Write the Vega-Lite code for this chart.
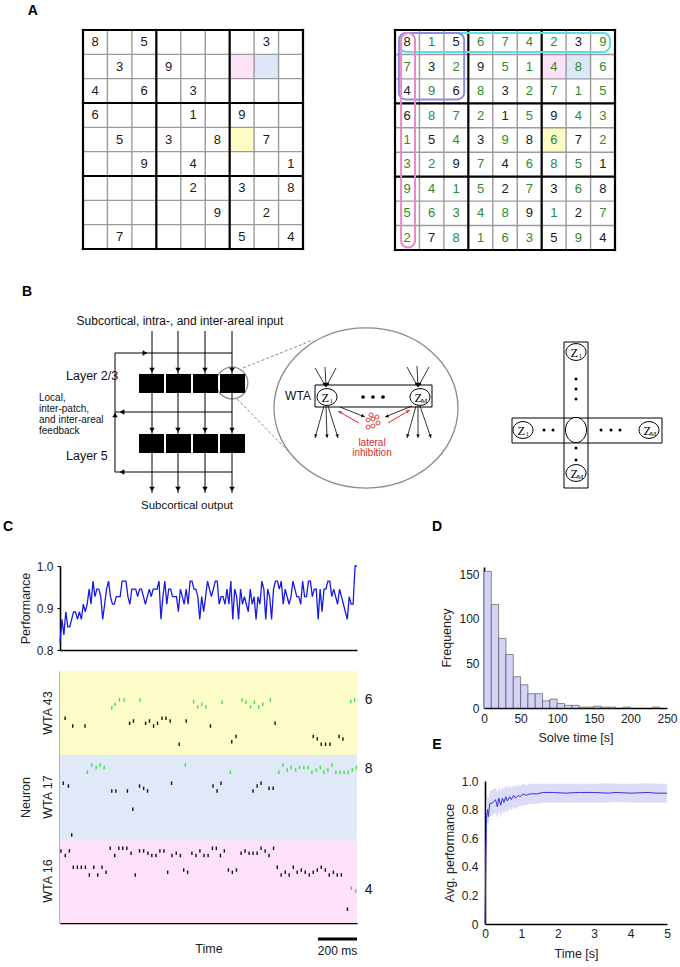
{
"$schema":"https://vega.github.io/schema/vega-lite/v6.json",
"width":680,"height":967,"autosize":"none","padding":0,"background":"white",
"config":{"font":"Liberation Sans","view":{"stroke":null},
 "axis":{"labelFont":"Liberation Sans","titleFont":"Liberation Sans","labelFontSize":12,"titleFontSize":12.5,"titleFontWeight":"normal","labelColor":"#222222","titleColor":"#222222","domainColor":"#000000","domainWidth":1.6,"tickColor":"#000000","grid":false,"ticks":false,"zindex":1,"labelFlush":false}},
"resolve":{"scale":{"x":"independent","y":"independent","color":"independent"},"axis":{"x":"independent","y":"independent"}},
"datasets":{
"sol":[{"r":1,"c":1,"v":8,"g":1},{"r":1,"c":2,"v":1,"g":0},{"r":1,"c":3,"v":5,"g":1},{"r":1,"c":4,"v":6,"g":0},{"r":1,"c":5,"v":7,"g":0},{"r":1,"c":6,"v":4,"g":0},{"r":1,"c":7,"v":2,"g":0},{"r":1,"c":8,"v":3,"g":1},{"r":1,"c":9,"v":9,"g":0},
{"r":2,"c":1,"v":7,"g":0},{"r":2,"c":2,"v":3,"g":1},{"r":2,"c":3,"v":2,"g":0},{"r":2,"c":4,"v":9,"g":1},{"r":2,"c":5,"v":5,"g":0},{"r":2,"c":6,"v":1,"g":0},{"r":2,"c":7,"v":4,"g":0},{"r":2,"c":8,"v":8,"g":0},{"r":2,"c":9,"v":6,"g":0},
{"r":3,"c":1,"v":4,"g":1},{"r":3,"c":2,"v":9,"g":0},{"r":3,"c":3,"v":6,"g":1},{"r":3,"c":4,"v":8,"g":0},{"r":3,"c":5,"v":3,"g":1},{"r":3,"c":6,"v":2,"g":0},{"r":3,"c":7,"v":7,"g":0},{"r":3,"c":8,"v":1,"g":0},{"r":3,"c":9,"v":5,"g":0},
{"r":4,"c":1,"v":6,"g":1},{"r":4,"c":2,"v":8,"g":0},{"r":4,"c":3,"v":7,"g":0},{"r":4,"c":4,"v":2,"g":0},{"r":4,"c":5,"v":1,"g":1},{"r":4,"c":6,"v":5,"g":0},{"r":4,"c":7,"v":9,"g":1},{"r":4,"c":8,"v":4,"g":0},{"r":4,"c":9,"v":3,"g":0},
{"r":5,"c":1,"v":1,"g":0},{"r":5,"c":2,"v":5,"g":1},{"r":5,"c":3,"v":4,"g":0},{"r":5,"c":4,"v":3,"g":1},{"r":5,"c":5,"v":9,"g":0},{"r":5,"c":6,"v":8,"g":1},{"r":5,"c":7,"v":6,"g":0},{"r":5,"c":8,"v":7,"g":1},{"r":5,"c":9,"v":2,"g":0},
{"r":6,"c":1,"v":3,"g":0},{"r":6,"c":2,"v":2,"g":0},{"r":6,"c":3,"v":9,"g":1},{"r":6,"c":4,"v":7,"g":0},{"r":6,"c":5,"v":4,"g":1},{"r":6,"c":6,"v":6,"g":0},{"r":6,"c":7,"v":8,"g":0},{"r":6,"c":8,"v":5,"g":0},{"r":6,"c":9,"v":1,"g":1},
{"r":7,"c":1,"v":9,"g":0},{"r":7,"c":2,"v":4,"g":0},{"r":7,"c":3,"v":1,"g":0},{"r":7,"c":4,"v":5,"g":0},{"r":7,"c":5,"v":2,"g":1},{"r":7,"c":6,"v":7,"g":0},{"r":7,"c":7,"v":3,"g":1},{"r":7,"c":8,"v":6,"g":0},{"r":7,"c":9,"v":8,"g":1},
{"r":8,"c":1,"v":5,"g":0},{"r":8,"c":2,"v":6,"g":0},{"r":8,"c":3,"v":3,"g":0},{"r":8,"c":4,"v":4,"g":0},{"r":8,"c":5,"v":8,"g":0},{"r":8,"c":6,"v":9,"g":1},{"r":8,"c":7,"v":1,"g":0},{"r":8,"c":8,"v":2,"g":1},{"r":8,"c":9,"v":7,"g":0},
{"r":9,"c":1,"v":2,"g":0},{"r":9,"c":2,"v":7,"g":1},{"r":9,"c":3,"v":8,"g":0},{"r":9,"c":4,"v":1,"g":0},{"r":9,"c":5,"v":6,"g":0},{"r":9,"c":6,"v":3,"g":0},{"r":9,"c":7,"v":5,"g":1},{"r":9,"c":8,"v":9,"g":0},{"r":9,"c":9,"v":4,"g":1}],
"hl":[{"r":2,"c":7,"w":"WTA 16"},{"r":2,"c":8,"w":"WTA 17"},{"r":5,"c":7,"w":"WTA 43"}],
"grid":[{"k":0,"b":1},{"k":1,"b":0},{"k":2,"b":0},{"k":3,"b":1},{"k":4,"b":0},{"k":5,"b":0},{"k":6,"b":1},{"k":7,"b":0},{"k":8,"b":0},{"k":9,"b":1}],
"rounds":[{"kind":"row","x1":0.2,"x2":8.8,"y1":0.12,"y2":0.9},{"kind":"box","x1":0.16,"x2":2.83,"y1":0.12,"y2":2.84},{"kind":"col","x1":0.25,"x2":0.82,"y1":0.12,"y2":8.9}],
"perf":[{"i":0,"p":0.818},{"i":1,"p":0.873},{"i":2,"p":0.836},{"i":3,"p":0.891},{"i":4,"p":0.855},{"i":5,"p":0.855},{"i":6,"p":0.873},{"i":7,"p":0.891},{"i":8,"p":0.891},{"i":9,"p":0.873},
{"i":10,"p":0.891},{"i":11,"p":0.873},{"i":12,"p":0.909},{"i":13,"p":0.891},{"i":14,"p":0.909},{"i":15,"p":0.945},{"i":16,"p":0.909},{"i":17,"p":0.964},{"i":18,"p":0.927},{"i":19,"p":0.945},
{"i":20,"p":0.945},{"i":21,"p":0.927},{"i":22,"p":0.873},{"i":23,"p":0.909},{"i":24,"p":0.945},{"i":25,"p":0.964},{"i":26,"p":0.927},{"i":27,"p":0.909},{"i":28,"p":0.909},{"i":29,"p":0.927},
{"i":30,"p":0.927},{"i":31,"p":0.927},{"i":32,"p":0.964},{"i":33,"p":0.964},{"i":34,"p":0.964},{"i":35,"p":0.927},{"i":36,"p":0.909},{"i":37,"p":0.945},{"i":38,"p":0.945},{"i":39,"p":0.945},
{"i":40,"p":0.927},{"i":41,"p":0.945},{"i":42,"p":0.945},{"i":43,"p":0.927},{"i":44,"p":0.909},{"i":45,"p":0.927},{"i":46,"p":0.945},{"i":47,"p":0.927},{"i":48,"p":0.945},{"i":49,"p":0.945},
{"i":50,"p":0.945},{"i":51,"p":0.964},{"i":52,"p":0.873},{"i":53,"p":0.927},{"i":54,"p":0.964},{"i":55,"p":0.909},{"i":56,"p":0.945},{"i":57,"p":0.945},{"i":58,"p":0.927},{"i":59,"p":0.927},
{"i":60,"p":0.927},{"i":61,"p":0.891},{"i":62,"p":0.945},{"i":63,"p":0.927},{"i":64,"p":0.909},{"i":65,"p":0.945},{"i":66,"p":0.909},{"i":67,"p":0.964},{"i":68,"p":0.964},{"i":69,"p":0.945},
{"i":70,"p":0.945},{"i":71,"p":0.927},{"i":72,"p":0.873},{"i":73,"p":0.927},{"i":74,"p":0.891},{"i":75,"p":0.927},{"i":76,"p":0.964},{"i":77,"p":0.945},{"i":78,"p":0.927},{"i":79,"p":0.945},
{"i":80,"p":0.964},{"i":81,"p":0.964},{"i":82,"p":0.909},{"i":83,"p":0.927},{"i":84,"p":0.927},{"i":85,"p":0.909},{"i":86,"p":0.945},{"i":87,"p":0.909},{"i":88,"p":0.964},{"i":89,"p":0.873},
{"i":90,"p":0.945},{"i":91,"p":0.927},{"i":92,"p":0.873},{"i":93,"p":0.945},{"i":94,"p":0.909},{"i":95,"p":0.927},{"i":96,"p":0.909},{"i":97,"p":0.891},{"i":98,"p":0.945},{"i":99,"p":0.909},
{"i":100,"p":0.927},{"i":101,"p":0.873},{"i":102,"p":0.927},{"i":103,"p":0.909},{"i":104,"p":0.964},{"i":105,"p":0.945},{"i":106,"p":0.873},{"i":107,"p":0.945},{"i":108,"p":0.927},{"i":109,"p":0.873},
{"i":110,"p":0.945},{"i":111,"p":0.964},{"i":112,"p":0.964},{"i":113,"p":0.945},{"i":114,"p":0.964},{"i":115,"p":0.909},{"i":116,"p":0.945},{"i":117,"p":0.927},{"i":118,"p":0.909},{"i":119,"p":0.927},
{"i":120,"p":0.964},{"i":121,"p":0.945},{"i":122,"p":0.927},{"i":123,"p":0.927},{"i":124,"p":0.909},{"i":125,"p":0.964},{"i":126,"p":0.927},{"i":127,"p":0.927},{"i":128,"p":0.964},{"i":129,"p":0.964},
{"i":130,"p":0.927},{"i":131,"p":0.945},{"i":132,"p":0.945},{"i":133,"p":0.873},{"i":134,"p":0.945},{"i":135,"p":0.891},{"i":136,"p":0.945},{"i":137,"p":0.945},{"i":138,"p":0.964},{"i":139,"p":0.964},
{"i":140,"p":0.927},{"i":141,"p":0.945},{"i":142,"p":0.927},{"i":143,"p":0.909},{"i":144,"p":0.945},{"i":145,"p":0.927},{"i":146,"p":0.909},{"i":147,"p":0.891},{"i":148,"p":0.873},{"i":149,"p":0.927},
{"i":150,"p":0.909},{"i":151,"p":0.909},{"i":152,"p":1.0},{"i":153,"p":1.0}],
"wta":[{"w":"WTA 43"},{"w":"WTA 17"},{"w":"WTA 16"}],
"spikes":[{"t":265,"n":92.3,"c":"g"},{"t":282,"n":93.7,"c":"g"},{"t":304,"n":95.6,"c":"g"},{"t":328,"n":95.6,"c":"g"},{"t":410,"n":95.6,"c":"g"},{"t":684,"n":94.9,"c":"g"},{"t":705,"n":92.6,"c":"g"},{"t":725,"n":93.7,"c":"g"},{"t":747,"n":92.6,"c":"g"},{"t":829,"n":94.6,"c":"g"},{"t":932,"n":95.6,"c":"g"},{"t":952,"n":94.6,"c":"g"},{"t":975,"n":92.6,"c":"g"},{"t":995,"n":94.6,"c":"g"},{"t":1017,"n":92.6,"c":"g"},{"t":1038,"n":93.7,"c":"g"},{"t":1077,"n":95.6,"c":"g"},{"t":1488,"n":94.9,"c":"g"},{"t":1508,"n":95.6,"c":"g"},
{"t":26,"n":87.7,"c":"k"},{"t":65,"n":84.4,"c":"k"},{"t":128,"n":84.4,"c":"k"},{"t":356,"n":85.6,"c":"k"},{"t":376,"n":86.6,"c":"k"},{"t":438,"n":85.6,"c":"k"},{"t":458,"n":86.6,"c":"k"},{"t":479,"n":84.4,"c":"k"},{"t":499,"n":85.6,"c":"k"},{"t":522,"n":87.7,"c":"k"},{"t":542,"n":87.7,"c":"k"},{"t":564,"n":86.6,"c":"k"},{"t":610,"n":76.6,"c":"k"},{"t":646,"n":86.6,"c":"k"},{"t":770,"n":84.4,"c":"k"},{"t":879,"n":77.7,"c":"k"},{"t":901,"n":79.9,"c":"k"},{"t":1101,"n":85.6,"c":"k"},{"t":1296,"n":79.9,"c":"k"},{"t":1317,"n":78.9,"c":"k"},{"t":1337,"n":76.6,"c":"k"},{"t":1359,"n":76.6,"c":"k"},{"t":1382,"n":76.6,"c":"k"},{"t":1428,"n":79.9,"c":"k"},{"t":1448,"n":78.9,"c":"k"},
{"t":140,"n":64.6,"c":"g"},{"t":162,"n":67.7,"c":"g"},{"t":185,"n":66.6,"c":"g"},{"t":205,"n":67.7,"c":"g"},{"t":226,"n":66.6,"c":"g"},{"t":641,"n":67.7,"c":"g"},{"t":872,"n":64.6,"c":"g"},{"t":1120,"n":64.6,"c":"g"},{"t":1141,"n":67.7,"c":"g"},{"t":1163,"n":65.6,"c":"g"},{"t":1183,"n":66.6,"c":"g"},{"t":1206,"n":65.6,"c":"g"},{"t":1226,"n":66.6,"c":"g"},{"t":1248,"n":66.6,"c":"g"},{"t":1269,"n":66.6,"c":"g"},{"t":1289,"n":64.6,"c":"g"},{"t":1312,"n":65.6,"c":"g"},{"t":1332,"n":66.6,"c":"g"},{"t":1351,"n":64.6,"c":"g"},{"t":1371,"n":65.6,"c":"g"},{"t":1392,"n":67.7,"c":"g"},{"t":1412,"n":64.6,"c":"g"},{"t":1433,"n":64.6,"c":"g"},{"t":1454,"n":64.6,"c":"g"},{"t":1474,"n":64.6,"c":"g"},{"t":1496,"n":65.6,"c":"g"},{"t":1517,"n":66.6,"c":"g"},
{"t":17,"n":59.9,"c":"k"},{"t":43,"n":58.7,"c":"k"},{"t":265,"n":56.6,"c":"k"},{"t":286,"n":56.6,"c":"k"},{"t":345,"n":56.6,"c":"k"},{"t":407,"n":58.7,"c":"k"},{"t":428,"n":57.7,"c":"k"},{"t":448,"n":56.6,"c":"k"},{"t":571,"n":59.9,"c":"k"},{"t":373,"n":48.7,"c":"k"},{"t":783,"n":58.7,"c":"k"},{"t":804,"n":56.6,"c":"k"},{"t":824,"n":59.9,"c":"k"},{"t":988,"n":56.6,"c":"k"},{"t":1009,"n":58.7,"c":"k"},{"t":1029,"n":59.9,"c":"k"},{"t":1070,"n":57.7,"c":"k"},{"t":1091,"n":57.7,"c":"k"},{"t":60,"n":37.7,"c":"k"},
{"t":5,"n":30.9,"c":"k"},{"t":27,"n":28.9,"c":"k"},{"t":48,"n":30.9,"c":"k"},{"t":257,"n":32,"c":"k"},{"t":280,"n":28.9,"c":"k"},{"t":301,"n":32,"c":"k"},{"t":321,"n":32,"c":"k"},{"t":342,"n":32,"c":"k"},{"t":364,"n":29.9,"c":"k"},{"t":407,"n":30.9,"c":"k"},{"t":428,"n":30.9,"c":"k"},{"t":450,"n":29.9,"c":"k"},{"t":470,"n":28.9,"c":"k"},{"t":491,"n":28.9,"c":"k"},{"t":511,"n":30.9,"c":"k"},{"t":532,"n":30.9,"c":"k"},{"t":573,"n":28.9,"c":"k"},{"t":595,"n":29.9,"c":"k"},{"t":616,"n":28.9,"c":"k"},{"t":675,"n":29.9,"c":"k"},{"t":696,"n":28.9,"c":"k"},{"t":716,"n":30.9,"c":"k"},{"t":737,"n":28.9,"c":"k"},{"t":758,"n":28.9,"c":"k"},{"t":780,"n":32,"c":"k"},{"t":800,"n":32,"c":"k"},{"t":821,"n":28.9,"c":"k"},{"t":841,"n":30.9,"c":"k"},{"t":927,"n":29.9,"c":"k"},{"t":947,"n":30.9,"c":"k"},{"t":968,"n":29.9,"c":"k"},{"t":988,"n":29.9,"c":"k"},{"t":1009,"n":29.9,"c":"k"},{"t":1029,"n":32,"c":"k"},{"t":1050,"n":30.9,"c":"k"},{"t":1070,"n":28.9,"c":"k"},{"t":1093,"n":32,"c":"k"},
{"t":68,"n":23.9,"c":"k"},{"t":89,"n":23.9,"c":"k"},{"t":109,"n":23.9,"c":"k"},{"t":130,"n":23.9,"c":"k"},{"t":150,"n":20.6,"c":"k"},{"t":173,"n":23.9,"c":"k"},{"t":193,"n":20.6,"c":"k"},{"t":215,"n":23.9,"c":"k"},{"t":236,"n":21.7,"c":"k"},{"t":385,"n":20.6,"c":"k"},{"t":551,"n":21.7,"c":"k"},{"t":633,"n":22.7,"c":"k"},{"t":653,"n":21.7,"c":"k"},{"t":862,"n":22.7,"c":"k"},{"t":882,"n":21.7,"c":"k"},{"t":903,"n":22.7,"c":"k"},{"t":1112,"n":23.9,"c":"k"},{"t":1132,"n":20.6,"c":"k"},{"t":1153,"n":21.7,"c":"k"},{"t":1173,"n":20.6,"c":"k"},{"t":1194,"n":23.9,"c":"k"},{"t":1214,"n":21.7,"c":"k"},{"t":1235,"n":22.7,"c":"k"},{"t":1255,"n":21.7,"c":"k"},{"t":1276,"n":20.6,"c":"k"},{"t":1296,"n":21.7,"c":"k"},{"t":1317,"n":22.7,"c":"k"},{"t":1337,"n":23.9,"c":"k"},{"t":1358,"n":22.7,"c":"k"},{"t":1378,"n":20.6,"c":"k"},{"t":1399,"n":21.7,"c":"k"},{"t":1419,"n":20.6,"c":"k"},{"t":1440,"n":20.6,"c":"k"},
{"t":1491,"n":14.9,"c":"g"},{"t":1513,"n":13.7,"c":"g"},{"t":1471,"n":5.9,"c":"k"}],
"hist":[{"b0":0,"b1":10,"f":153},{"b0":10,"b1":20,"f":116},{"b0":20,"b1":30,"f":78},{"b0":30,"b1":40,"f":60},{"b0":40,"b1":50,"f":35},{"b0":50,"b1":60,"f":26},{"b0":60,"b1":70,"f":16},{"b0":70,"b1":80,"f":16},{"b0":80,"b1":90,"f":8},{"b0":90,"b1":100,"f":10},{"b0":100,"b1":110,"f":5},{"b0":110,"b1":120,"f":3},{"b0":120,"b1":130,"f":3},{"b0":130,"b1":140,"f":1},{"b0":140,"b1":150,"f":1},{"b0":150,"b1":160,"f":2},{"b0":160,"b1":170,"f":1},{"b0":170,"b1":180,"f":1},{"b0":190,"b1":200,"f":1},{"b0":230,"b1":240,"f":1}],
"avg":[{"t":0,"m":0,"lo":0,"hi":0},{"t":0.04,"m":0.74,"lo":0.66,"hi":0.85},{"t":0.07,"m":0.8,"lo":0.72,"hi":0.9},{"t":0.09,"m":0.75,"lo":0.68,"hi":0.87},{"t":0.13,"m":0.84,"lo":0.75,"hi":0.93},{"t":0.22,"m":0.85,"lo":0.76,"hi":0.94},{"t":0.29,"m":0.87,"lo":0.78,"hi":0.95},{"t":0.34,"m":0.82,"lo":0.74,"hi":0.92},{"t":0.38,"m":0.88,"lo":0.79,"hi":0.96},{"t":0.43,"m":0.83,"lo":0.75,"hi":0.93},{"t":0.48,"m":0.88,"lo":0.79,"hi":0.96},{"t":0.52,"m":0.85,"lo":0.77,"hi":0.94},{"t":0.57,"m":0.89,"lo":0.8,"hi":0.97},{"t":0.61,"m":0.86,"lo":0.78,"hi":0.95},{"t":0.68,"m":0.89,"lo":0.81,"hi":0.97},{"t":0.72,"m":0.87,"lo":0.79,"hi":0.95},{"t":0.79,"m":0.9,"lo":0.82,"hi":0.97},{"t":0.84,"m":0.88,"lo":0.8,"hi":0.96},{"t":0.91,"m":0.9,"lo":0.82,"hi":0.97},{"t":0.97,"m":0.89,"lo":0.82,"hi":0.97},{"t":1.04,"m":0.91,"lo":0.83,"hi":0.98},{"t":1.13,"m":0.9,"lo":0.83,"hi":0.97},{"t":1.23,"m":0.91,"lo":0.84,"hi":0.98},{"t":1.42,"m":0.91,"lo":0.84,"hi":0.98},{"t":1.6,"m":0.92,"lo":0.85,"hi":0.98},{"t":1.88,"m":0.92,"lo":0.85,"hi":0.98},{"t":2.2,"m":0.915,"lo":0.85,"hi":0.98},{"t":2.6,"m":0.92,"lo":0.85,"hi":0.98},{"t":3.0,"m":0.92,"lo":0.85,"hi":0.98},{"t":3.4,"m":0.915,"lo":0.85,"hi":0.985},{"t":3.6,"m":0.92,"lo":0.855,"hi":0.98},{"t":4.0,"m":0.915,"lo":0.85,"hi":0.98},{"t":4.5,"m":0.92,"lo":0.85,"hi":0.985},{"t":4.7,"m":0.915,"lo":0.85,"hi":0.98},{"t":5.0,"m":0.915,"lo":0.85,"hi":0.98}],
"bsq":[{"x1":27.8,"x2":32.8,"y1":74.8,"y2":78.6},{"x1":33.2,"x2":38.2,"y1":74.8,"y2":78.6},{"x1":38.6,"x2":43.6,"y1":74.8,"y2":78.6},{"x1":44,"x2":49,"y1":74.8,"y2":78.6},{"x1":27.8,"x2":32.8,"y1":86.8,"y2":90.6},{"x1":33.2,"x2":38.2,"y1":86.8,"y2":90.6},{"x1":38.6,"x2":43.6,"y1":86.8,"y2":90.6},{"x1":44,"x2":49,"y1":86.8,"y2":90.6}],
"bbox":[{"x1":63,"x2":86.4,"y1":77,"y2":81.4},{"x1":112.8,"x2":117.6,"y1":68.4,"y2":97.6},{"x1":102.4,"x2":132.4,"y1":83.6,"y2":88.6}],
"blines":[{"g":"m","x1":30.4,"y1":66.2,"x2":30.4,"y2":74.8},{"g":"m","x1":35.6,"y1":66.2,"x2":35.6,"y2":74.8},{"g":"m","x1":41,"y1":66.2,"x2":41,"y2":74.8},{"g":"m","x1":46.4,"y1":66.2,"x2":46.4,"y2":74.8},
{"g":"m","x1":30.4,"y1":78.6,"x2":30.4,"y2":86.8},{"g":"m","x1":35.6,"y1":78.6,"x2":35.6,"y2":86.8},{"g":"m","x1":41,"y1":78.6,"x2":41,"y2":86.8},{"g":"m","x1":46.4,"y1":78.6,"x2":46.4,"y2":86.8},
{"g":"m","x1":30.4,"y1":90.6,"x2":30.4,"y2":98.6},{"g":"m","x1":35.6,"y1":90.6,"x2":35.6,"y2":98.6},{"g":"m","x1":41,"y1":90.6,"x2":41,"y2":98.6},{"g":"m","x1":46.4,"y1":90.6,"x2":46.4,"y2":98.6},
{"g":"m","x1":23,"y1":70.6,"x2":23,"y2":94.4},{"g":"m","x1":23,"y1":70.6,"x2":46.4,"y2":70.6},{"g":"m","x1":23,"y1":82.4,"x2":46.4,"y2":82.4},{"g":"m","x1":23,"y1":94.4,"x2":46.4,"y2":94.4},
{"g":"f","x1":63,"y1":73.6,"x2":65.2,"y2":77.4},{"g":"f","x1":65,"y1":73.4,"x2":65.2,"y2":77.4},{"g":"f","x1":67.2,"y1":73.6,"x2":65.2,"y2":77.4},{"g":"f","x1":81.4,"y1":73.4,"x2":83.6,"y2":77.4},{"g":"f","x1":83.4,"y1":73.2,"x2":83.6,"y2":77.4},{"g":"f","x1":85.8,"y1":73.4,"x2":83.6,"y2":77.4},
{"g":"f","x1":64.8,"y1":81.2,"x2":63,"y2":87.6},{"g":"f","x1":65.2,"y1":81.2,"x2":65.4,"y2":87.6},{"g":"f","x1":65.6,"y1":81.2,"x2":67.6,"y2":87.6},{"g":"f","x1":83.2,"y1":81.2,"x2":81.4,"y2":87.6},{"g":"f","x1":83.6,"y1":81.2,"x2":83.6,"y2":87.6},{"g":"f","x1":84,"y1":81.2,"x2":86.2,"y2":87.6},
{"g":"f","x1":68,"y1":81.4,"x2":73,"y2":83.4},{"g":"f","x1":82.4,"y1":81.2,"x2":77,"y2":83.4},
{"g":"r","x1":71.8,"y1":84.6,"x2":67.6,"y2":82.2},{"g":"r","x1":77.6,"y1":84.6,"x2":82,"y2":82},
{"g":"d","x1":48.6,"y1":73.6,"x2":62.6,"y2":68},{"g":"d","x1":47.4,"y1":79.8,"x2":57.8,"y2":90.4}],
"barr":[{"g":"m","x":30.4,"y":74.0,"a":180},{"g":"m","x":35.6,"y":74.0,"a":180},{"g":"m","x":41,"y":74.0,"a":180},{"g":"m","x":46.4,"y":74.0,"a":180},
{"g":"m","x":30.4,"y":86.0,"a":180},{"g":"m","x":35.6,"y":86.0,"a":180},{"g":"m","x":41,"y":86.0,"a":180},{"g":"m","x":46.4,"y":86.0,"a":180},
{"g":"m","x":30.4,"y":97.8,"a":180},{"g":"m","x":35.6,"y":97.8,"a":180},{"g":"m","x":41,"y":97.8,"a":180},{"g":"m","x":46.4,"y":97.8,"a":180},
{"g":"m","x":29,"y":70.6,"a":90},{"g":"m","x":24.4,"y":82.4,"a":270},{"g":"m","x":24.4,"y":94.4,"a":270},{"g":"m","x":23,"y":83.0,"a":0},
{"g":"f","x":64.9,"y":76.9,"a":150},{"g":"f","x":65.2,"y":76.9,"a":177},{"g":"f","x":65.5,"y":76.9,"a":208},{"g":"f","x":83.3,"y":76.9,"a":151},{"g":"f","x":83.6,"y":76.9,"a":177},{"g":"f","x":83.9,"y":76.9,"a":209},
{"g":"f","x":63.1,"y":87.2,"a":196},{"g":"f","x":65.4,"y":87.2,"a":178},{"g":"f","x":67.5,"y":87.2,"a":163},{"g":"f","x":81.5,"y":87.2,"a":196},{"g":"f","x":83.6,"y":87.2,"a":180},{"g":"f","x":86.1,"y":87.2,"a":161},
{"g":"f","x":72.6,"y":83.2,"a":112},{"g":"f","x":77.4,"y":83.3,"a":248},
{"g":"r","x":68,"y":82.4,"a":300},{"g":"r","x":81.6,"y":82.2,"a":59}],
"bdots":[{"g":"w","x":72.6,"y":79.4},{"g":"w","x":74.6,"y":79.4},{"g":"w","x":76.6,"y":79.4},{"g":"c","x":115.2,"y":75.8},{"g":"c","x":115.2,"y":77.8},{"g":"c","x":115.2,"y":79.8},{"g":"c","x":115.2,"y":89.6},{"g":"c","x":115.2,"y":92},{"g":"c","x":108.8,"y":86},{"g":"c","x":110.6,"y":86},{"g":"c","x":120.2,"y":86},{"g":"c","x":122.2,"y":86},{"g":"c","x":124,"y":86}],
"bred":[{"x":74.2,"y":83},{"x":75.4,"y":83.4},{"x":73.6,"y":84},{"x":74.6,"y":83.8},{"x":75.6,"y":84.6},{"x":73.6,"y":85.4},{"x":74.6,"y":85.2}],
"zlab":[{"x":65.4,"y":79.4,"s":"1"},{"x":84,"y":79.4,"s":"M"},{"x":115.2,"y":70.4,"s":"1"},{"x":115.2,"y":94.6,"s":"M"},{"x":104.6,"y":86,"s":"1"},{"x":129.8,"y":86,"s":"M"}],
"btext":[{"g":"c12","x":36,"y":64.2,"t":"Subcortical, intra-, and inter-areal input"},{"g":"c12","x":59.6,"y":79.2,"t":"WTA"},{"g":"l12","x":13.2,"y":75.2,"t":"Layer 2/3"},{"g":"l12","x":13.2,"y":91.2,"t":"Layer 5"},{"g":"c11","x":37.4,"y":101.2,"t":"Subcortical output"},{"g":"fb","x":7.8,"y":79.6,"t":"Local,"},{"g":"fb","x":7.8,"y":81.8,"t":"inter-patch,"},{"g":"fb","x":7.8,"y":84,"t":"and inter-areal"},{"g":"fb","x":7.8,"y":86.2,"t":"feedback"},{"g":"red","x":74.4,"y":88.6,"t":"lateral"},{"g":"red","x":74.4,"y":90.6,"t":"inhibition"}]
},
"layer":[
{"data":{"name":"hl"},"mark":{"type":"rect"},"encoding":{"x":{"field":"c","type":"ordinal","scale":{"type":"band","domain":[1,2,3,4,5,6,7,8,9],"range":[83,303],"paddingInner":0,"paddingOuter":0},"axis":null},"y":{"field":"r","type":"ordinal","scale":{"type":"band","domain":[1,2,3,4,5,6,7,8,9],"range":[30,249],"paddingInner":0,"paddingOuter":0},"axis":null},"color":{"field":"w","type":"nominal","scale":{"domain":["WTA 16","WTA 17","WTA 43"],"range":["#fde2fa","#dce8f8","#fdfcc6"]},"legend":null}}},
{"data":{"name":"grid"},"transform":[{"filter":"datum.b==0"}],"mark":{"type":"rule","color":"#9a9a9a","strokeWidth":1.4},"encoding":{"x":{"field":"k","type":"quantitative","scale":{"domain":[0,9],"range":[83,303],"nice":false,"zero":false},"axis":null},"y":{"datum":0,"type":"quantitative","scale":{"domain":[0,9],"range":[30,249],"nice":false,"zero":false},"axis":null},"y2":{"datum":9}}},
{"data":{"name":"grid"},"transform":[{"filter":"datum.b==0"}],"mark":{"type":"rule","color":"#9a9a9a","strokeWidth":1.4},"encoding":{"y":{"field":"k","type":"quantitative","scale":{"domain":[0,9],"range":[30,249],"nice":false,"zero":false},"axis":null},"x":{"datum":0,"type":"quantitative","scale":{"domain":[0,9],"range":[83,303],"nice":false,"zero":false},"axis":null},"x2":{"datum":9}}},
{"data":{"name":"grid"},"transform":[{"filter":"datum.b==1"}],"mark":{"type":"rule","color":"#000000","strokeWidth":2.2,"strokeCap":"square"},"encoding":{"x":{"field":"k","type":"quantitative","scale":{"domain":[0,9],"range":[83,303],"nice":false,"zero":false},"axis":null},"y":{"datum":0,"type":"quantitative","scale":{"domain":[0,9],"range":[30,249],"nice":false,"zero":false},"axis":null},"y2":{"datum":9}}},
{"data":{"name":"grid"},"transform":[{"filter":"datum.b==1"}],"mark":{"type":"rule","color":"#000000","strokeWidth":2.2,"strokeCap":"square"},"encoding":{"y":{"field":"k","type":"quantitative","scale":{"domain":[0,9],"range":[30,249],"nice":false,"zero":false},"axis":null},"x":{"datum":0,"type":"quantitative","scale":{"domain":[0,9],"range":[83,303],"nice":false,"zero":false},"axis":null},"x2":{"datum":9}}},
{"data":{"name":"sol"},"transform":[{"filter":"datum.g==1"}],"mark":{"type":"text","fontSize":13,"color":"#1a1a1a"},"encoding":{"x":{"field":"c","type":"quantitative","scale":{"domain":[0.5,9.5],"range":[83,303],"nice":false,"zero":false},"axis":null},"y":{"field":"r","type":"quantitative","scale":{"domain":[0.5,9.5],"range":[30,249],"nice":false,"zero":false},"axis":null},"text":{"field":"v","type":"nominal"}}},
{"data":{"values":[{"l":"A"}]},"mark":{"type":"text","fontSize":14,"fontWeight":"bold","color":"#000000"},"encoding":{"x":{"datum":-1.55,"type":"quantitative","scale":{"domain":[0.5,9.5],"range":[83,303],"nice":false,"zero":false},"axis":null},"y":{"datum":-0.28,"type":"quantitative","scale":{"domain":[0.5,9.5],"range":[30,249],"nice":false,"zero":false},"axis":null},"text":{"field":"l"}}},

{"data":{"name":"hl"},"mark":{"type":"rect"},"encoding":{"x":{"field":"c","type":"ordinal","scale":{"type":"band","domain":[1,2,3,4,5,6,7,8,9],"range":[395,615],"paddingInner":0,"paddingOuter":0},"axis":null},"y":{"field":"r","type":"ordinal","scale":{"type":"band","domain":[1,2,3,4,5,6,7,8,9],"range":[30,250],"paddingInner":0,"paddingOuter":0},"axis":null},"color":{"field":"w","type":"nominal","scale":{"domain":["WTA 16","WTA 17","WTA 43"],"range":["#fde2fa","#dce8f8","#fdfcc6"]},"legend":null}}},
{"data":{"name":"grid"},"transform":[{"filter":"datum.b==0"}],"mark":{"type":"rule","color":"#9a9a9a","strokeWidth":1.4},"encoding":{"x":{"field":"k","type":"quantitative","scale":{"domain":[0,9],"range":[395,615],"nice":false,"zero":false},"axis":null},"y":{"datum":0,"type":"quantitative","scale":{"domain":[0,9],"range":[30,250],"nice":false,"zero":false},"axis":null},"y2":{"datum":9}}},
{"data":{"name":"grid"},"transform":[{"filter":"datum.b==0"}],"mark":{"type":"rule","color":"#9a9a9a","strokeWidth":1.4},"encoding":{"y":{"field":"k","type":"quantitative","scale":{"domain":[0,9],"range":[30,250],"nice":false,"zero":false},"axis":null},"x":{"datum":0,"type":"quantitative","scale":{"domain":[0,9],"range":[395,615],"nice":false,"zero":false},"axis":null},"x2":{"datum":9}}},
{"data":{"name":"grid"},"transform":[{"filter":"datum.b==1"}],"mark":{"type":"rule","color":"#000000","strokeWidth":2.2,"strokeCap":"square"},"encoding":{"x":{"field":"k","type":"quantitative","scale":{"domain":[0,9],"range":[395,615],"nice":false,"zero":false},"axis":null},"y":{"datum":0,"type":"quantitative","scale":{"domain":[0,9],"range":[30,250],"nice":false,"zero":false},"axis":null},"y2":{"datum":9}}},
{"data":{"name":"grid"},"transform":[{"filter":"datum.b==1"}],"mark":{"type":"rule","color":"#000000","strokeWidth":2.2,"strokeCap":"square"},"encoding":{"y":{"field":"k","type":"quantitative","scale":{"domain":[0,9],"range":[30,250],"nice":false,"zero":false},"axis":null},"x":{"datum":0,"type":"quantitative","scale":{"domain":[0,9],"range":[395,615],"nice":false,"zero":false},"axis":null},"x2":{"datum":9}}},
{"data":{"name":"sol"},"mark":{"type":"text","fontSize":13},"encoding":{"x":{"field":"c","type":"quantitative","scale":{"domain":[0.5,9.5],"range":[395,615],"nice":false,"zero":false},"axis":null},"y":{"field":"r","type":"quantitative","scale":{"domain":[0.5,9.5],"range":[30,250],"nice":false,"zero":false},"axis":null},"text":{"field":"v","type":"nominal"},"color":{"field":"g","type":"nominal","scale":{"domain":[1,0],"range":["#1a1a1a","#2e8b2e"]},"legend":null}}},
{"data":{"name":"rounds"},"mark":{"type":"rect","filled":false,"strokeWidth":2,"cornerRadius":7},"encoding":{"x":{"field":"x1","type":"quantitative","scale":{"domain":[0,9],"range":[395,615],"nice":false,"zero":false},"axis":null},"x2":{"field":"x2"},"y":{"field":"y1","type":"quantitative","scale":{"domain":[0,9],"range":[30,250],"nice":false,"zero":false},"axis":null},"y2":{"field":"y2"},"color":{"field":"kind","type":"nominal","scale":{"domain":["row","box","col"],"range":["#5fdde6","#8c8ce6","#e48ac8"]},"legend":null}}},

{"data":{"values":[{"x":73.2,"y":81.6}]},"mark":{"type":"point","shape":"M-1,0A1,0.87,0,1,1,1,0A1,0.87,0,1,1,-1,0Z","size":33856,"filled":false,"stroke":"#8a8a8a","strokeWidth":1.3,"opacity":1},"encoding":{"x":{"field":"x","type":"quantitative","scale":{"domain":[4,136],"range":[20,680],"nice":false,"zero":false},"axis":null},"y":{"field":"y","type":"quantitative","scale":{"domain":[56,106],"range":[280,530],"nice":false,"zero":false},"axis":null}}},
{"data":{"values":[{"x":46.4,"y":76.6}]},"mark":{"type":"point","shape":"circle","size":1000,"filled":false,"stroke":"#8a8a8a","strokeWidth":1.3,"opacity":1},"encoding":{"x":{"field":"x","type":"quantitative","scale":{"domain":[4,136],"range":[20,680],"nice":false,"zero":false},"axis":null},"y":{"field":"y","type":"quantitative","scale":{"domain":[56,106],"range":[280,530],"nice":false,"zero":false},"axis":null}}},
{"data":{"name":"blines"},"transform":[{"filter":"datum.g=='d'"}],"mark":{"type":"rule","color":"#8a8a8a","strokeWidth":1,"strokeDash":[3,2]},"encoding":{"x":{"field":"x1","type":"quantitative","scale":{"domain":[4,136],"range":[20,680],"nice":false,"zero":false},"axis":null},"y":{"field":"y1","type":"quantitative","scale":{"domain":[56,106],"range":[280,530],"nice":false,"zero":false},"axis":null},"x2":{"field":"x2"},"y2":{"field":"y2"}}},
{"data":{"name":"bsq"},"mark":{"type":"rect","color":"#000000"},"encoding":{"x":{"field":"x1","type":"quantitative","scale":{"domain":[4,136],"range":[20,680],"nice":false,"zero":false},"axis":null},"x2":{"field":"x2"},"y":{"field":"y1","type":"quantitative","scale":{"domain":[56,106],"range":[280,530],"nice":false,"zero":false},"axis":null},"y2":{"field":"y2"}}},
{"data":{"name":"bbox"},"mark":{"type":"rect","filled":false,"stroke":"#000000","strokeWidth":1},"encoding":{"x":{"field":"x1","type":"quantitative","scale":{"domain":[4,136],"range":[20,680],"nice":false,"zero":false},"axis":null},"x2":{"field":"x2"},"y":{"field":"y1","type":"quantitative","scale":{"domain":[56,106],"range":[280,530],"nice":false,"zero":false},"axis":null},"y2":{"field":"y2"}}},
{"data":{"name":"blines"},"transform":[{"filter":"datum.g=='m'"}],"mark":{"type":"rule","color":"#000000","strokeWidth":1},"encoding":{"x":{"field":"x1","type":"quantitative","scale":{"domain":[4,136],"range":[20,680],"nice":false,"zero":false},"axis":null},"y":{"field":"y1","type":"quantitative","scale":{"domain":[56,106],"range":[280,530],"nice":false,"zero":false},"axis":null},"x2":{"field":"x2"},"y2":{"field":"y2"}}},
{"data":{"name":"blines"},"transform":[{"filter":"datum.g=='f'"}],"mark":{"type":"rule","color":"#000000","strokeWidth":0.8},"encoding":{"x":{"field":"x1","type":"quantitative","scale":{"domain":[4,136],"range":[20,680],"nice":false,"zero":false},"axis":null},"y":{"field":"y1","type":"quantitative","scale":{"domain":[56,106],"range":[280,530],"nice":false,"zero":false},"axis":null},"x2":{"field":"x2"},"y2":{"field":"y2"}}},
{"data":{"name":"blines"},"transform":[{"filter":"datum.g=='r'"}],"mark":{"type":"rule","color":"#e02828","strokeWidth":1},"encoding":{"x":{"field":"x1","type":"quantitative","scale":{"domain":[4,136],"range":[20,680],"nice":false,"zero":false},"axis":null},"y":{"field":"y1","type":"quantitative","scale":{"domain":[56,106],"range":[280,530],"nice":false,"zero":false},"axis":null},"x2":{"field":"x2"},"y2":{"field":"y2"}}},
{"data":{"name":"barr"},"transform":[{"filter":"datum.g=='m'"}],"mark":{"type":"point","shape":"triangle-up","size":30,"filled":true,"color":"#000000","opacity":1},"encoding":{"x":{"field":"x","type":"quantitative","scale":{"domain":[4,136],"range":[20,680],"nice":false,"zero":false},"axis":null},"y":{"field":"y","type":"quantitative","scale":{"domain":[56,106],"range":[280,530],"nice":false,"zero":false},"axis":null},"angle":{"field":"a","type":"quantitative","scale":null}}},
{"data":{"name":"barr"},"transform":[{"filter":"datum.g=='f'"}],"mark":{"type":"point","shape":"triangle-up","size":12,"filled":true,"color":"#000000","opacity":1},"encoding":{"x":{"field":"x","type":"quantitative","scale":{"domain":[4,136],"range":[20,680],"nice":false,"zero":false},"axis":null},"y":{"field":"y","type":"quantitative","scale":{"domain":[56,106],"range":[280,530],"nice":false,"zero":false},"axis":null},"angle":{"field":"a","type":"quantitative","scale":null}}},
{"data":{"name":"barr"},"transform":[{"filter":"datum.g=='r'"}],"mark":{"type":"point","shape":"triangle-up","size":12,"filled":true,"color":"#e02828","opacity":1},"encoding":{"x":{"field":"x","type":"quantitative","scale":{"domain":[4,136],"range":[20,680],"nice":false,"zero":false},"axis":null},"y":{"field":"y","type":"quantitative","scale":{"domain":[56,106],"range":[280,530],"nice":false,"zero":false},"axis":null},"angle":{"field":"a","type":"quantitative","scale":null}}},
{"data":{"name":"bred"},"mark":{"type":"point","shape":"circle","size":16,"filled":false,"stroke":"#e02828","strokeWidth":0.9,"opacity":1},"encoding":{"x":{"field":"x","type":"quantitative","scale":{"domain":[4,136],"range":[20,680],"nice":false,"zero":false},"axis":null},"y":{"field":"y","type":"quantitative","scale":{"domain":[56,106],"range":[280,530],"nice":false,"zero":false},"axis":null}}},
{"data":{"name":"bdots"},"transform":[{"filter":"datum.g=='w'"}],"mark":{"type":"point","shape":"circle","size":14,"filled":true,"color":"#000000","opacity":1},"encoding":{"x":{"field":"x","type":"quantitative","scale":{"domain":[4,136],"range":[20,680],"nice":false,"zero":false},"axis":null},"y":{"field":"y","type":"quantitative","scale":{"domain":[56,106],"range":[280,530],"nice":false,"zero":false},"axis":null}}},
{"data":{"name":"bdots"},"transform":[{"filter":"datum.g=='c'"}],"mark":{"type":"point","shape":"circle","size":9,"filled":true,"color":"#000000","opacity":1},"encoding":{"x":{"field":"x","type":"quantitative","scale":{"domain":[4,136],"range":[20,680],"nice":false,"zero":false},"axis":null},"y":{"field":"y","type":"quantitative","scale":{"domain":[56,106],"range":[280,530],"nice":false,"zero":false},"axis":null}}},
{"data":{"name":"zlab"},"mark":{"type":"point","shape":"M-1,0A1,0.84,0,1,1,1,0A1,0.84,0,1,1,-1,0Z","size":400,"filled":true,"fill":"#ffffff","stroke":"#000000","strokeWidth":1,"opacity":1},"encoding":{"x":{"field":"x","type":"quantitative","scale":{"domain":[4,136],"range":[20,680],"nice":false,"zero":false},"axis":null},"y":{"field":"y","type":"quantitative","scale":{"domain":[56,106],"range":[280,530],"nice":false,"zero":false},"axis":null}}},
{"data":{"values":[{"x":115.2,"y":86}]},"mark":{"type":"point","shape":"M-1,0A1,1.2,0,1,1,1,0A1,1.2,0,1,1,-1,0Z","size":441,"filled":true,"fill":"#ffffff","stroke":"#000000","strokeWidth":1,"opacity":1},"encoding":{"x":{"field":"x","type":"quantitative","scale":{"domain":[4,136],"range":[20,680],"nice":false,"zero":false},"axis":null},"y":{"field":"y","type":"quantitative","scale":{"domain":[56,106],"range":[280,530],"nice":false,"zero":false},"axis":null}}},
{"data":{"name":"zlab"},"mark":{"type":"text","font":"Liberation Serif","fontSize":12.5,"dx":-1.8,"dy":0.5,"color":"#000000"},"encoding":{"x":{"field":"x","type":"quantitative","scale":{"domain":[4,136],"range":[20,680],"nice":false,"zero":false},"axis":null},"y":{"field":"y","type":"quantitative","scale":{"domain":[56,106],"range":[280,530],"nice":false,"zero":false},"axis":null},"text":{"value":"Z"}}},
{"data":{"name":"zlab"},"mark":{"type":"text","font":"Liberation Serif","fontSize":7,"dx":4.2,"dy":3.5,"color":"#000000"},"encoding":{"x":{"field":"x","type":"quantitative","scale":{"domain":[4,136],"range":[20,680],"nice":false,"zero":false},"axis":null},"y":{"field":"y","type":"quantitative","scale":{"domain":[56,106],"range":[280,530],"nice":false,"zero":false},"axis":null},"text":{"field":"s"}}},
{"data":{"name":"btext"},"transform":[{"filter":"datum.g=='c12'"}],"mark":{"type":"text","fontSize":12,"color":"#111111"},"encoding":{"x":{"field":"x","type":"quantitative","scale":{"domain":[4,136],"range":[20,680],"nice":false,"zero":false},"axis":null},"y":{"field":"y","type":"quantitative","scale":{"domain":[56,106],"range":[280,530],"nice":false,"zero":false},"axis":null},"text":{"field":"t"}}},
{"data":{"name":"btext"},"transform":[{"filter":"datum.g=='l12'"}],"mark":{"type":"text","fontSize":12.5,"align":"left","color":"#111111"},"encoding":{"x":{"field":"x","type":"quantitative","scale":{"domain":[4,136],"range":[20,680],"nice":false,"zero":false},"axis":null},"y":{"field":"y","type":"quantitative","scale":{"domain":[56,106],"range":[280,530],"nice":false,"zero":false},"axis":null},"text":{"field":"t"}}},
{"data":{"name":"btext"},"transform":[{"filter":"datum.g=='c11'"}],"mark":{"type":"text","fontSize":11.5,"color":"#111111"},"encoding":{"x":{"field":"x","type":"quantitative","scale":{"domain":[4,136],"range":[20,680],"nice":false,"zero":false},"axis":null},"y":{"field":"y","type":"quantitative","scale":{"domain":[56,106],"range":[280,530],"nice":false,"zero":false},"axis":null},"text":{"field":"t"}}},
{"data":{"name":"btext"},"transform":[{"filter":"datum.g=='fb'"}],"mark":{"type":"text","fontSize":10,"align":"left","color":"#111111"},"encoding":{"x":{"field":"x","type":"quantitative","scale":{"domain":[4,136],"range":[20,680],"nice":false,"zero":false},"axis":null},"y":{"field":"y","type":"quantitative","scale":{"domain":[56,106],"range":[280,530],"nice":false,"zero":false},"axis":null},"text":{"field":"t"}}},
{"data":{"name":"btext"},"transform":[{"filter":"datum.g=='red'"}],"mark":{"type":"text","fontSize":10,"color":"#e02828"},"encoding":{"x":{"field":"x","type":"quantitative","scale":{"domain":[4,136],"range":[20,680],"nice":false,"zero":false},"axis":null},"y":{"field":"y","type":"quantitative","scale":{"domain":[56,106],"range":[280,530],"nice":false,"zero":false},"axis":null},"text":{"field":"t"}}},
{"data":{"values":[{"l":"B"}]},"mark":{"type":"text","fontSize":14,"fontWeight":"bold","color":"#000000"},"encoding":{"x":{"datum":5.4,"type":"quantitative","scale":{"domain":[4,136],"range":[20,680],"nice":false,"zero":false},"axis":null},"y":{"datum":58.4,"type":"quantitative","scale":{"domain":[56,106],"range":[280,530],"nice":false,"zero":false},"axis":null},"text":{"field":"l"}}},

{"data":{"name":"perf"},"mark":{"type":"line","color":"#1a1ae6","strokeWidth":1.3},"encoding":{"x":{"field":"i","type":"quantitative","scale":{"domain":[0,153],"range":[60,357],"nice":false,"zero":false},"axis":{"orient":"bottom","offset":-317,"labels":false,"ticks":false,"title":null}},"y":{"field":"p","type":"quantitative","scale":{"domain":[0.8,1.0],"range":[650,566],"nice":false,"zero":false},"axis":{"orient":"left","offset":-60,"values":[0.8,0.9,1.0],"format":".1f","ticks":true,"tickSize":3,"labelPadding":4,"title":"Performance","titlePadding":4}}}},
{"data":{"values":[{"l":"C"}]},"mark":{"type":"text","fontSize":14,"fontWeight":"bold","color":"#000000"},"encoding":{"x":{"datum":-266,"type":"quantitative","scale":{"domain":[0,1520],"range":[60,357],"nice":false,"zero":false},"axis":null},"y":{"datum":169.7,"type":"quantitative","scale":{"domain":[0,108],"range":[923,671],"nice":false,"zero":false},"axis":null},"text":{"field":"l"}}},
{"data":{"name":"wta"},"mark":{"type":"rect"},"encoding":{"y":{"field":"w","type":"nominal","scale":{"type":"band","domain":["WTA 43","WTA 17","WTA 16"],"range":[671,923],"paddingInner":0,"paddingOuter":0},"axis":{"orient":"left","offset":-60,"domain":false,"ticks":false,"labelAngle":270,"labelAlign":"center","labelBaseline":"bottom","labelPadding":6,"labelFontSize":12.5,"title":"Neuron","titlePadding":9}},"x":{"datum":0,"type":"quantitative","scale":{"domain":[0,1520],"range":[60,357],"nice":false,"zero":false},"axis":null},"x2":{"datum":1520},"color":{"field":"w","type":"nominal","scale":{"domain":["WTA 16","WTA 17","WTA 43"],"range":["#fde2fa","#dfe9f8","#fcfcc8"]},"legend":null}}},
{"data":{"name":"spikes"},"mark":{"type":"tick","orient":"vertical","size":3.5,"thickness":1.4,"opacity":1},"encoding":{"x":{"field":"t","type":"quantitative","scale":{"domain":[0,1520],"range":[60,357],"nice":false,"zero":false},"axis":{"orient":"bottom","offset":-44,"labels":false,"ticks":false,"title":"Time","titlePadding":19}},"y":{"field":"n","type":"quantitative","scale":{"domain":[0,108],"range":[923,671],"nice":false,"zero":false},"axis":{"orient":"left","offset":-60,"labels":false,"ticks":false,"title":null}},"color":{"field":"c","type":"nominal","scale":{"domain":["k","g"],"range":["#111111","#3de03d"]},"legend":null}}},
{"data":{"values":[{"n":95.6,"d":"6"},{"n":66,"d":"8"},{"n":14,"d":"4"}]},"mark":{"type":"text","fontSize":14,"color":"#111111"},"encoding":{"x":{"datum":1580,"type":"quantitative","scale":{"domain":[0,1520],"range":[60,357],"nice":false,"zero":false},"axis":null},"y":{"field":"n","type":"quantitative","scale":{"domain":[0,108],"range":[923,671],"nice":false,"zero":false},"axis":null},"text":{"field":"d"}}},
{"data":{"values":[{"s":"200 ms"}]},"mark":{"type":"rule","color":"#000000","strokeWidth":3},"encoding":{"x":{"datum":1320,"type":"quantitative","scale":{"domain":[0,1520],"range":[60,357],"nice":false,"zero":false},"axis":null},"x2":{"datum":1520},"y":{"datum":-6.9,"type":"quantitative","scale":{"domain":[0,108],"range":[923,671],"nice":false,"zero":false},"axis":null}}},
{"data":{"values":[{"s":"200 ms"}]},"mark":{"type":"text","fontSize":12,"color":"#111111"},"encoding":{"x":{"datum":1420,"type":"quantitative","scale":{"domain":[0,1520],"range":[60,357],"nice":false,"zero":false},"axis":null},"y":{"datum":-11.8,"type":"quantitative","scale":{"domain":[0,108],"range":[923,671],"nice":false,"zero":false},"axis":null},"text":{"field":"s"}}},

{"data":{"name":"hist"},"mark":{"type":"rect","fill":"#d2d3f6","stroke":"#444444","strokeWidth":0.6},"encoding":{"x":{"field":"b0","type":"quantitative","scale":{"domain":[0,250],"range":[484,667],"nice":false,"zero":false},"axis":{"orient":"bottom","offset":-259,"values":[0,50,100,150,200,250],"labelPadding":5,"title":"Solve time [s]","titlePadding":7}},"x2":{"field":"b1"},"y":{"field":"f","type":"quantitative","scale":{"domain":[0,158],"range":[708,567],"nice":false,"zero":false},"axis":{"orient":"left","offset":-484,"values":[0,50,100,150],"labelPadding":5,"title":"Frequency","titlePadding":5}},"y2":{"datum":0}}},
{"data":{"values":[{"l":"D"}]},"mark":{"type":"text","fontSize":14,"fontWeight":"bold","color":"#000000"},"encoding":{"x":{"datum":-64.2,"type":"quantitative","scale":{"domain":[0,250],"range":[484,667],"nice":false,"zero":false},"axis":null},"y":{"datum":202.8,"type":"quantitative","scale":{"domain":[0,158],"range":[708,567],"nice":false,"zero":false},"axis":null},"text":{"field":"l"}}},

{"data":{"name":"avg"},"mark":{"type":"area","color":"#dcdcf8","opacity":1},"encoding":{"x":{"field":"t","type":"quantitative","scale":{"domain":[0,5],"range":[485,667],"nice":false,"zero":false},"axis":null},"y":{"field":"lo","type":"quantitative","scale":{"domain":[0,1],"range":[924,781],"nice":false,"zero":false},"axis":null},"y2":{"field":"hi"}}},
{"data":{"name":"avg"},"mark":{"type":"line","color":"#3434d4","strokeWidth":1},"encoding":{"x":{"field":"t","type":"quantitative","scale":{"domain":[0,5],"range":[485,667],"nice":false,"zero":false},"axis":{"orient":"bottom","offset":-43,"values":[0,1,2,3,4,5],"labelPadding":4,"title":"Time [s]","titlePadding":8}},"y":{"field":"m","type":"quantitative","scale":{"domain":[0,1],"range":[924,781],"nice":false,"zero":false},"axis":{"orient":"left","offset":-485,"values":[0,0.2,0.4,0.6,0.8,1.0],"labelExpr":"datum.value == 0 ? '0' : format(datum.value, '.1f')","labelPadding":7,"title":"Avg. performance","titlePadding":5}}}},
{"data":{"values":[{"l":"E"}]},"mark":{"type":"text","fontSize":14,"fontWeight":"bold","color":"#000000"},"encoding":{"x":{"datum":-1.32,"type":"quantitative","scale":{"domain":[0,5],"range":[485,667],"nice":false,"zero":false},"axis":null},"y":{"datum":1.252,"type":"quantitative","scale":{"domain":[0,1],"range":[924,781],"nice":false,"zero":false},"axis":null},"text":{"field":"l"}}}
]
}
